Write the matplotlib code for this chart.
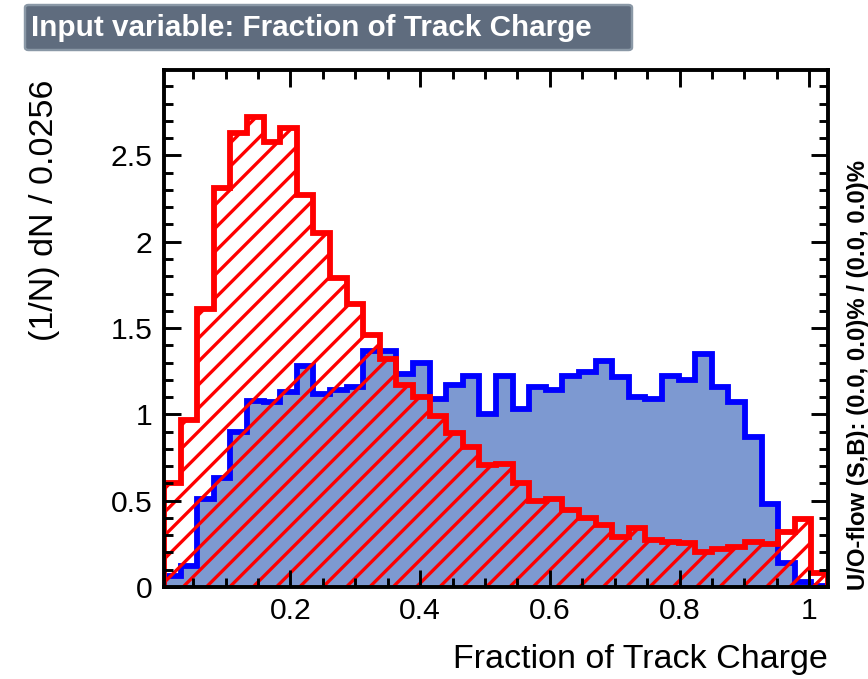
import numpy as np
import matplotlib
matplotlib.use('Agg')
import matplotlib.pyplot as plt
from matplotlib.patches import FancyBboxPatch
from matplotlib.ticker import MultipleLocator, FuncFormatter

# binning of the input variable
bin_width = 0.0256
x_min = 0.005

# normalised distributions (1/N dN per bin)
signal = [0.065, 0.12, 0.51, 0.63, 0.90, 1.08, 1.07, 1.13, 1.28, 1.12,
          1.14, 1.16, 1.37, 1.37, 1.235, 1.30, 1.09, 1.17, 1.225, 1.00,
          1.225, 1.03, 1.16, 1.14, 1.225, 1.245, 1.31, 1.215, 1.10, 1.09,
          1.225, 1.20, 1.35, 1.16, 1.07, 0.87, 0.48, 0.14, 0.03, 0.005]
background = [0.60, 0.97, 1.61, 2.31, 2.63, 2.72, 2.58, 2.66, 2.27, 2.05,
              1.79, 1.64, 1.46, 1.32, 1.17, 1.10, 0.99, 0.89, 0.81, 0.705,
              0.71, 0.60, 0.50, 0.51, 0.445, 0.40, 0.36, 0.29, 0.34, 0.27,
              0.26, 0.256, 0.204, 0.22, 0.233, 0.26, 0.25, 0.32, 0.395, 0.08]

edges = x_min + bin_width * np.arange(len(signal) + 1)

plt.rcParams['font.family'] = ['Liberation Sans', 'DejaVu Sans']
plt.rcParams['hatch.color'] = 'red'
plt.rcParams['hatch.linewidth'] = 3.4

W, H = 868, 679
fig = plt.figure(figsize=(W / 70, H / 70), dpi=70)
ax = fig.add_axes([164 / W, 1 - 587 / H, 664 / W, 517 / H])

# signal: filled blue
ax.stairs(signal, edges, fill=True, color='#7d99d1', lw=0)
ax.stairs(signal, edges, color='#0000ff', lw=6)
# background: red hatched
ax.stairs(background, edges, fill=True, facecolor='none', edgecolor='red',
          hatch='/', lw=0)
ax.stairs(background, edges, color='red', lw=6)

ax.set_xlim(edges[0], edges[-1])
ax.set_ylim(0, 2.995)
ax.xaxis.set_major_locator(MultipleLocator(0.2))
ax.xaxis.set_minor_locator(MultipleLocator(0.05))
ax.yaxis.set_major_locator(MultipleLocator(0.5))
ax.yaxis.set_minor_locator(MultipleLocator(0.1))
fmt = FuncFormatter(lambda v, p: f'{v:g}')
ax.xaxis.set_major_formatter(fmt)
ax.yaxis.set_major_formatter(fmt)
ax.tick_params(which='both', direction='in', top=True, right=True,
               width=3, labelsize=31)
ax.tick_params(which='major', length=17)
ax.tick_params(which='minor', length=9)
ax.tick_params(axis='y', pad=12)
ax.tick_params(axis='x', pad=10)
for s in ax.spines.values():
    s.set_linewidth(4)

fig.text(828 / W, 1 - 668 / H, 'Fraction of Track Charge', ha='right',
         va='baseline', fontsize=35)
fig.text(45 / W, 1 - 80 / H, '(1/N) dN / 0.0256', rotation=90,
         ha='center', va='top', fontsize=35)
fig.text(858 / W, 1 - 590 / H, 'U/O-flow (S,B): (0.0, 0.0)% / (0.0, 0.0)%',
         rotation=90, ha='center', va='bottom', fontsize=24.5,
         fontweight='bold')

# title box
box = FancyBboxPatch((25 / W, 1 - 50 / H), 607 / W, 45 / H,
                     boxstyle='round,pad=0,rounding_size=0.004',
                     transform=fig.transFigure, fc='#5f6c7e', ec='#8a98a6',
                     lw=2.5)
fig.patches.append(box)
fig.text(31 / W, 1 - 28 / H, 'Input variable: Fraction of Track Charge',
         ha='left', va='center', color='white', fontsize=30.5,
         fontweight='bold')

fig.savefig('out.png', dpi=70)
